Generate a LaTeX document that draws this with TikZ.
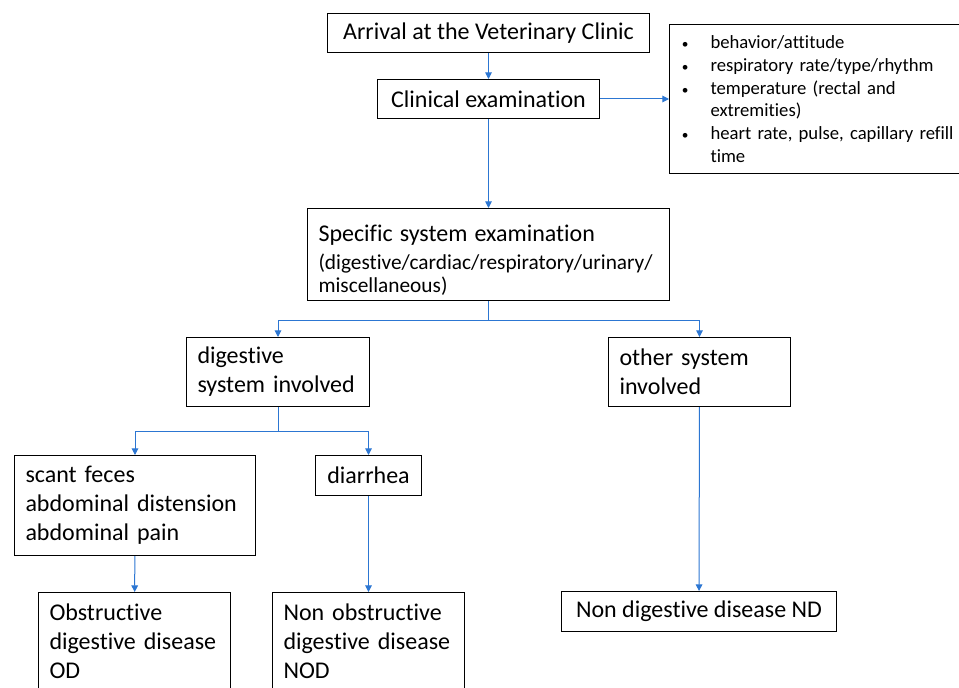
\documentclass[tikz,border=0pt]{standalone}
\usepackage{fontspec}
\setmainfont{Carlito}[Ligatures=CommonOff]
\usetikzlibrary{arrows.meta,positioning,calc}
\definecolor{linkblue}{RGB}{44,118,210}
\newcommand{\bul}{\makebox[22.5pt][l]{\hspace{1pt}\fontsize{10}{10}\selectfont\textbullet}}
\hyphenpenalty=10000
\exhyphenpenalty=10000

\begin{document}
\begin{tikzpicture}[x=0.75pt,y=-0.75pt,
  box/.style={draw,line width=0.75pt,anchor=north west,align=left,inner xsep=8.25pt,inner ysep=0pt,font=\fontsize{18}{21.75}\selectfont},
  link/.style={draw=linkblue,line width=0.75pt},
  arr/.style={link,-{Triangle[length=5pt,width=5pt]}}]
  \clip (0,0) rectangle (959,688);

  % top of the chart
  \node[box,align=center,minimum width=241.5pt,minimum height=29.25pt] (arrival) at (327,13) {Arrival at the Veterinary Clinic};
  \node[box,align=center,minimum width=166.5pt,minimum height=29.25pt] (clinical) at (377,79) {Clinical examination};
  \node[box,text width=215pt,minimum height=111.75pt,font=\fontsize{14}{17.1}\selectfont] (checks) at (669,24)
    {\bul behavior/attitude\\
     \bul respiratory rate/type/rhythm\\
     \bul temperature (rectal and\\
     \hspace*{22.5pt}extremities)\\
     \bul heart rate, pulse, capillary refill\\
     \hspace*{22.5pt}time};
  \node[box,text width=255pt,minimum height=69pt,font=\fontsize{16}{17.25}\selectfont] (specific) at (307,208)
    {{\fontsize{18}{21.75}\selectfont\rule{0pt}{21pt}Specific system examination}\\[4pt]
     (digestive/cardiac/respiratory/urinary/\\
     miscellaneous)};

  % systems
  \node[box,text width=120.75pt,minimum height=51.75pt] (digestive) at (186,337) {digestive\\system involved};
  \node[box,text width=120pt,minimum height=51.75pt] (other) at (608,337) {other system\\involved};

  % signs
  \node[box,text width=164.25pt,minimum height=75pt] (scant) at (14,455) {scant feces\\abdominal distension\\abdominal pain};
  \node[box,align=center,minimum width=79.5pt,minimum height=30pt] (diarrhea) at (315,455) {diarrhea};

  % outcomes
  \node[box,text width=127.5pt,minimum height=73.5pt] (od) at (38,592) {Obstructive\\digestive disease\\OD};
  \node[box,text width=127.5pt,minimum height=73.5pt] (nod) at (272,592) {Non obstructive\\digestive disease\\NOD};
  \node[box,align=center,minimum width=206.25pt,minimum height=30pt] (nd) at (561,591) {Non digestive disease ND};

  % connectors
  \draw[arr] (arrival) -- (clinical);
  \draw[arr] (clinical.east) -- (clinical.east -| checks.west);
  \draw[arr] (clinical) -- (specific);
  \coordinate (forkA) at ($(specific.south)+(0,19)$);
  \draw[link] (specific.south) -- (forkA);
  \draw[arr] (forkA) -| (digestive.north);
  \draw[arr] (forkA) -| (other.north);
  \coordinate (forkB) at ($(digestive.south)+(0,24)$);
  \draw[link] (digestive.south) -- (forkB);
  \draw[arr] (forkB) -| (scant.north);
  \draw[arr] (forkB) -| (diarrhea.north);
  \draw[arr] (scant) -- (od);
  \draw[arr] (diarrhea) -- (nod);
  \draw[arr] (other) -- (nd);
\end{tikzpicture}
\end{document}
